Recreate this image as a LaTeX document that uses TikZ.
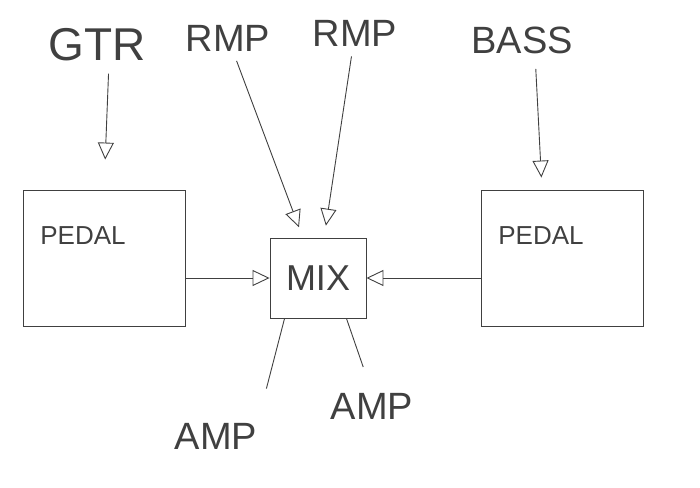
\documentclass[tikz,border=0pt]{standalone}
\usepackage{fontspec}
\setmainfont{Liberation Sans}
\usetikzlibrary{arrows.meta}

\begin{document}
\begin{tikzpicture}[x=1pt,y=-1pt,color=black!75,line width=0.9pt,
    lbl/.style={inner sep=0pt,font=\fontsize{38}{38}\selectfont},
    small/.style={inner sep=0pt,font=\fontsize{26}{26}\selectfont},
    pedalbox/.style={draw,minimum width=162pt,minimum height=136pt},
    mixbox/.style={draw,minimum width=96pt,minimum height=80pt,font=\fontsize{36}{36}\selectfont},
    sig/.style={-{Triangle[open,length=17pt,width=16pt]}}]
    \useasboundingbox (0,0) rectangle (700,487);
    % Sources
    \node[lbl,font=\fontsize{46}{46}\selectfont] (gtr) at (97,45) {GTR};
    \node[lbl] (rmp1) at (228,38) {RMP};
    \node[lbl] (rmp2) at (355,33) {RMP};
    \node[lbl] (bass) at (522,40) {BASS};
    % Pedals, mixer
    \node[pedalbox] (lpedal) at (104,258) {};
    \node[small] (ltxt) at (83,236) {PEDAL};
    \node[pedalbox] (rpedal) at (562,258) {};
    \node[small] (rtxt) at (541,236) {PEDAL};
    \node[mixbox] (mix) at (318,278) {MIX};
    % Amps
    \node[lbl] (amp1) at (216,436) {AMP};
    \node[lbl] (amp2) at (372,406) {AMP};
    % Signal lines
    \draw[sig,shorten <=12pt,shorten >=30pt] ([xshift=12pt]gtr.south) -- (lpedal.north);
    \draw[sig,shorten <=10pt,shorten >=11pt] (rmp1) -- (mix);
    \draw[sig,shorten <=10pt,shorten >=12pt] (rmp2) -- (mix);
    \draw[sig,shorten <=15pt,shorten >=12pt] ([xshift=13pt]bass.south) -- ([xshift=-20pt]rpedal.north);
    \draw[sig] (lpedal.east |- mix.west) -- (mix.west);
    \draw[sig] (rpedal.west |- mix.east) -- (mix.east);
    \draw[shorten >=35pt] ([xshift=15pt]mix.south west) -- (amp1.north east);
    \draw[shorten >=27pt] ([xshift=-20pt]mix.south east) -- (amp2.north);
\end{tikzpicture}
\end{document}
